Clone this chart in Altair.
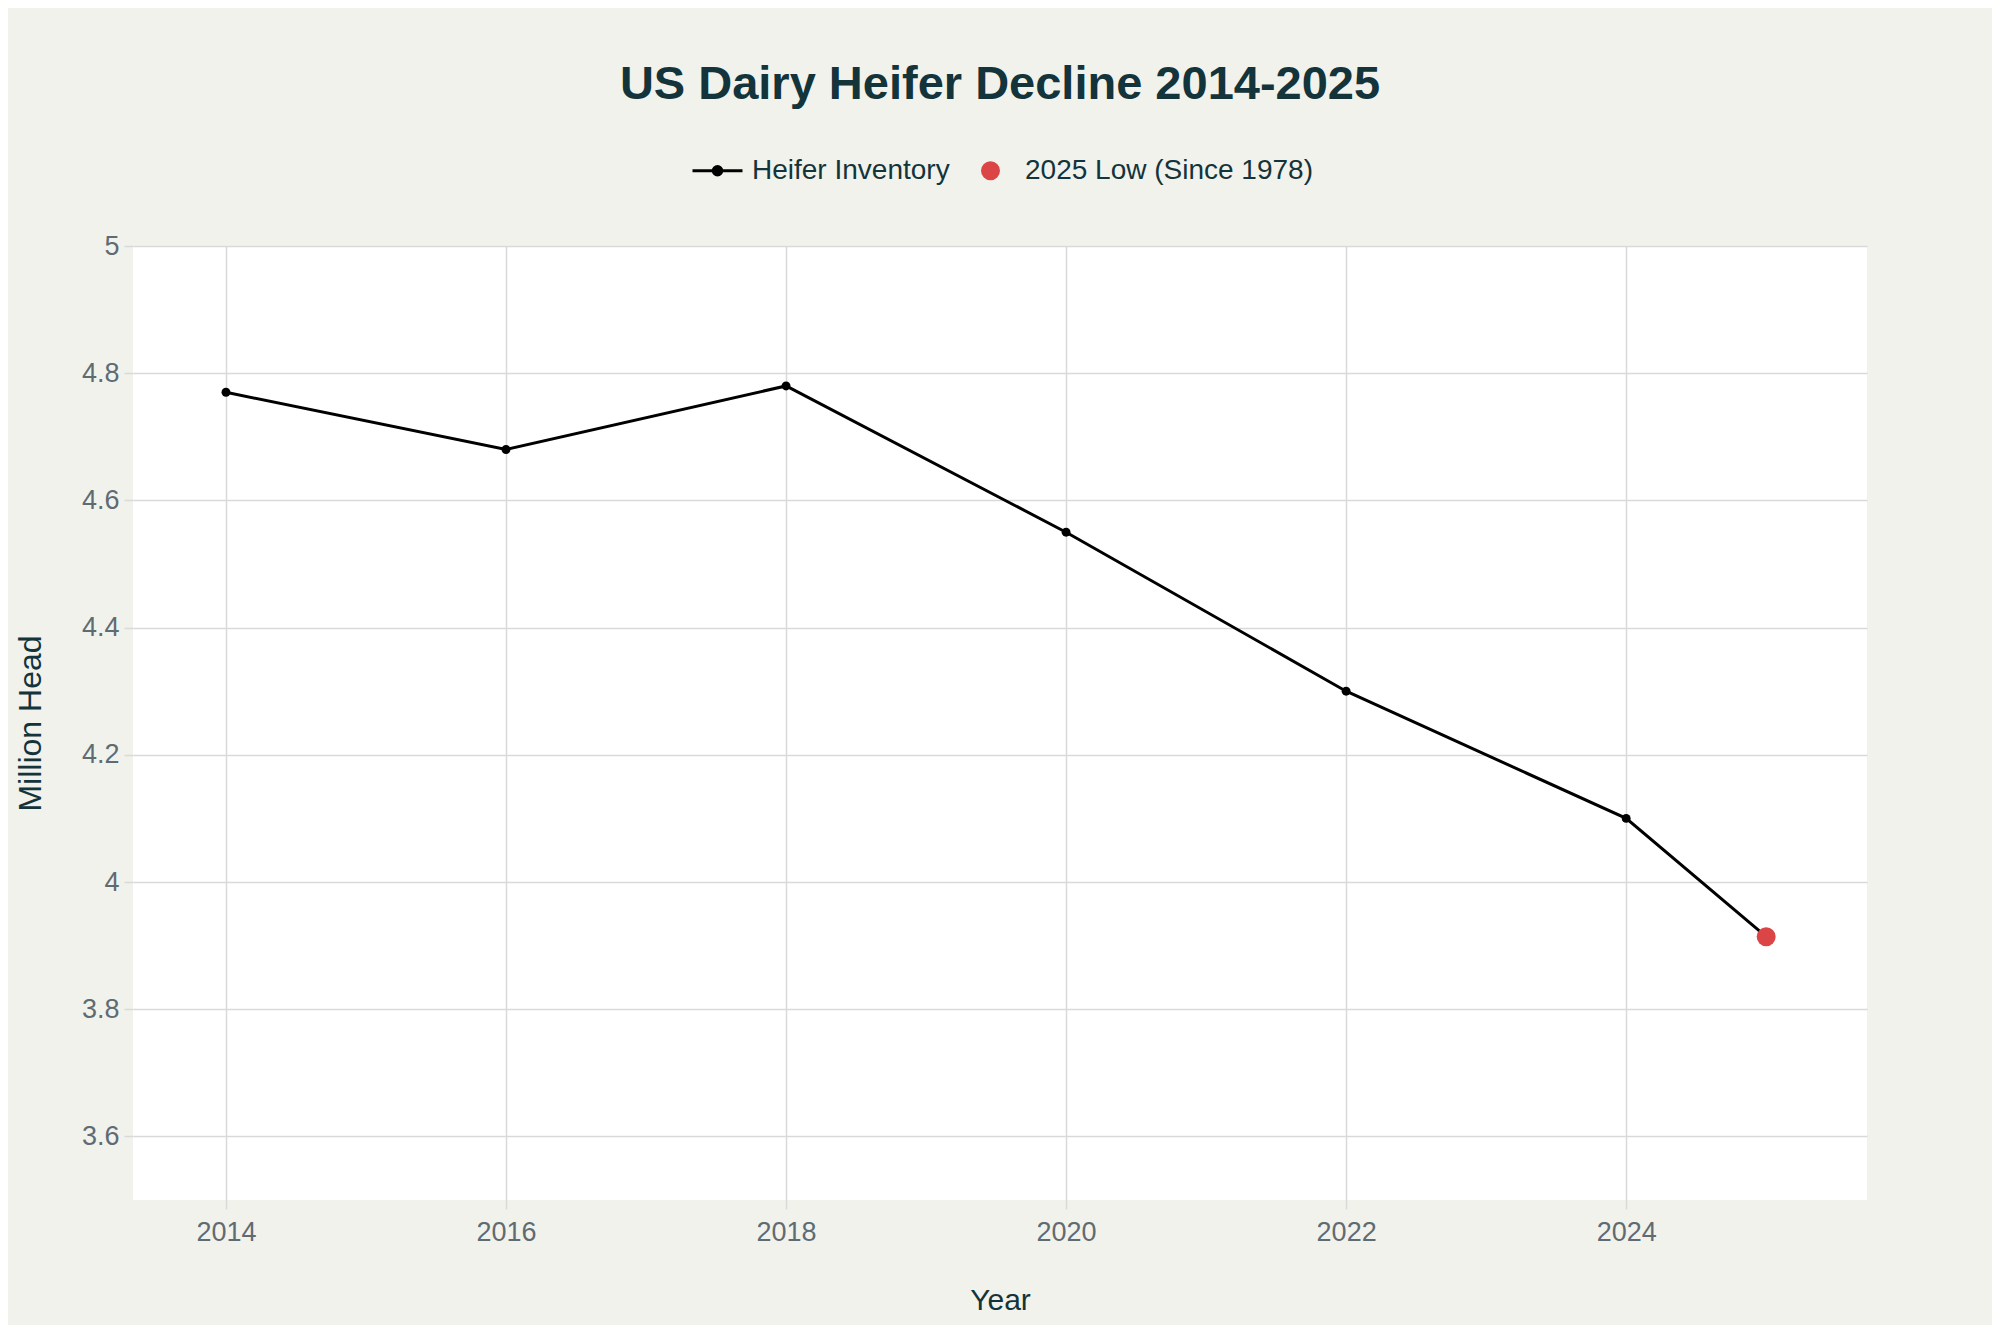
import altair as alt
import pandas as pd

# ---- data ----
years = [2014, 2016, 2018, 2020, 2022, 2024, 2025]
heifers = [4.77, 4.68, 4.78, 4.55, 4.30, 4.10, 3.914]
inv_label = "Heifer Inventory"
low_label = "2025 Low (Since 1978)"
series = [inv_label] * 6 + [low_label]
x_ticks = [2014, 2016, 2018, 2020, 2022, 2024]
y_ticks = [3.6, 3.8, 4.0, 4.2, 4.4, 4.6, 4.8, 5.0]

df = pd.DataFrame({"year": years, "value": heifers, "series": series})

FONT = "Liberation Sans"
DARK = "#13343B"
GREY = "#5F6B72"
GRID = "#D9D9D9"
RED = "#DB4545"
BG = "#F2F2EC"

x_enc = alt.X(
    "year:Q",
    scale=alt.Scale(domain=[2013.336, 2025.72], nice=False, zero=False),
    axis=alt.Axis(
        values=x_ticks, format="d", title="Year", titlePadding=40,
        labelPadding=10, tickSize=9,
    ),
)
y_enc = alt.Y(
    "value:Q",
    scale=alt.Scale(domain=[3.5, 5.0], nice=False, zero=False),
    axis=alt.Axis(
        values=y_ticks, format=".1~f", title="Million Head", titlePadding=34,
        titleFontSize=32, labelPadding=5, tickSize=9,
    ),
)

base = alt.Chart(df).encode(x=x_enc, y=y_enc)

line = base.mark_line(color="#000000", strokeWidth=3)
pts = base.transform_filter(alt.datum.series == inv_label).mark_point(
    filled=True, color="#000000", size=80, opacity=1
)
low = base.transform_filter(alt.datum.series == low_label).mark_point(
    filled=True, color=RED, size=360, opacity=1
)

legend_labels = [inv_label, low_label]
inv_path = "M-1,0H1M-0.17,0A0.17,0.17,0,1,1,0.17,0A0.17,0.17,0,1,1,-0.17,0Z"
low_path = "M-0.32,0A0.32,0.32,0,1,1,0.32,0A0.32,0.32,0,1,1,-0.32,0Z"

leg = alt.Legend(
    title=None, orient="none", legendX=558, legendY=-102, direction="horizontal",
    symbolSize=2500, symbolStrokeWidth=3, labelFontSize=28, labelFont=FONT,
    labelColor=DARK, labelOffset=8, columnPadding=14, labelLimit=400, padding=0,
)

legend_layer = (
    alt.Chart(df)
    .transform_filter("false")
    .mark_point(filled=True, opacity=1)
    .encode(
        fill=alt.Fill("series:N", scale=alt.Scale(domain=legend_labels, range=["#000000", RED]), legend=leg),
        stroke=alt.Stroke("series:N", scale=alt.Scale(domain=legend_labels, range=["#000000", RED]), legend=leg),
        shape=alt.Shape("series:N", scale=alt.Scale(domain=legend_labels, range=[inv_path, low_path]), legend=leg),
    )
)

chart = (
    alt.layer(line, pts, low, legend_layer)
    .properties(
        width=1734,
        height=954,
        autosize=alt.AutoSizeParams(type="none"),
        padding={"left": 125, "top": 238, "right": 125, "bottom": 125},
        title=alt.TitleParams(
            "US Dairy Heifer Decline 2014-2025",
            font=FONT, fontSize=47, fontWeight="bold", color=DARK,
            anchor="middle", baseline="alphabetic", offset=-2,
        ),
        background=BG,
        view=alt.ViewBackground(fill="#FFFFFF", strokeWidth=0),
    )
    .configure_view(fill="#FFFFFF", strokeWidth=0)
    .configure_axis(
        labelFont=FONT, labelFontSize=27, labelColor=GREY,
        titleFont=FONT, titleFontSize=30, titleColor=DARK, titleFontWeight="normal",
        gridColor=GRID, gridWidth=1.5, tickColor=GRID, tickWidth=1.5,
        domain=False,
    )
)

chart.save("out.html", embed_options={"renderer": "svg", "actions": False})
